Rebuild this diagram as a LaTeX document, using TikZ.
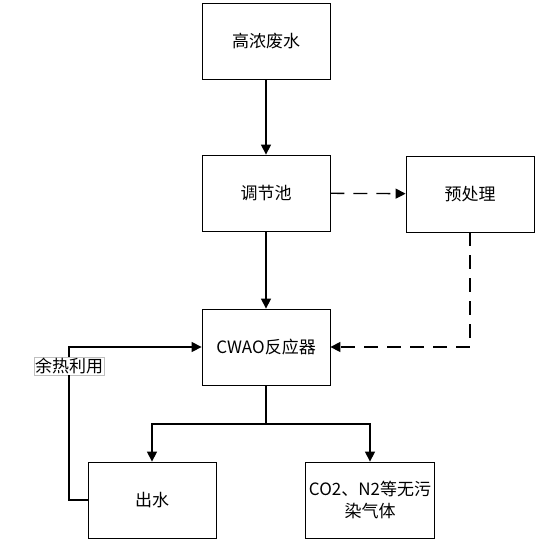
\documentclass[tikz,border=0pt]{standalone}
\usepackage{fontspec}
\setmainfont{Noto Sans CJK SC}
\usetikzlibrary{arrows.meta}

\begin{document}
\begin{tikzpicture}[x=1pt, y=1pt,
    box/.style={draw, line width=0.8pt, minimum width=128pt, minimum height=76pt, align=center, font=\fontsize{17}{22}\selectfont},
    arr/.style={line width=1.3pt, -{Triangle[length=10pt, width=10pt]}},
    dasharr/.style={line width=1.3pt, dash pattern=on 14pt off 9pt, -{Triangle[length=10pt, width=10pt]}}]
    \useasboundingbox (0, 0) rectangle (539, -543);

    \node[box] (raw) at (266, -41) {高浓废水};
    \node[box] (tank) at (266, -193) {调节池};
    \node[box] (pre) at (470, -194) {预处理};
    \node[box] (cwao) at (266, -347) {CWAO反应器};
    \node[box] (out) at (152, -500) {出水};
    \node[box] (gas) at (370, -500) {CO2、N2等无污\\染气体};

    \node[draw=black!25, fill=white, line width=0.4pt, inner sep=1pt, font=\fontsize{17}{19}\selectfont] (heat) at (69, -366) {余热利用};
    \coordinate (split) at (266, -424);

    \draw[arr] (raw) -- (tank);
    \draw[arr] (tank) -- (cwao);
    \draw[dasharr] (tank) -- (pre);
    \draw[dasharr] (pre.south) |- (cwao.east);
    \draw[line width=1.3pt] (cwao.south) -- (split);
    \foreach \t in {out, gas}
        \draw[arr] (split) -| (\t.north);
    \draw[line width=1.3pt] (out.west) -| (heat.south);
    \draw[arr] (heat.north) |- (cwao.west);
\end{tikzpicture}
\end{document}
